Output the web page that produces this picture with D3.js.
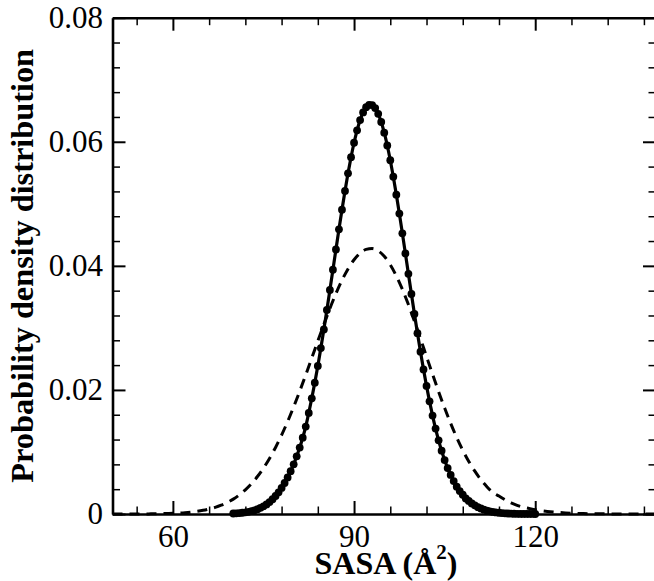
<!DOCTYPE html>
<html>
<head>
<meta charset="utf-8">
<script src="https://cdn.jsdelivr.net/npm/d3@7"></script>
<style>
  html, body { margin: 0; padding: 0; background: #fff; overflow: hidden; }
  svg { display: block; }
  svg text { font-family: 'Liberation Serif', 'Times New Roman', Times, 'Nimbus Roman', 'DejaVu Serif', serif !important; fill: #000; }
</style>
</head>
<body>
<svg id="chart" width="654" height="581"></svg>
<script>
// ---- data ----
const solidX = [70,70.5,71,71.5,72,72.5,73,73.5,74,74.5,75,75.5,76,76.5,77,77.5,78,78.5,79,79.5,
  80,80.5,81,81.5,82,82.5,83,83.5,84,84.5,85,85.5,86,86.5,87,87.5,88,88.5,89,89.5,
  90,90.5,91,91.5,92,92.5,93,93.5,94,94.5,95,95.5,96,96.5,97,97.5,98,98.5,99,99.5,
  100,100.5,101,101.5,102,102.5,103,103.5,104,104.5,105,105.5,106,106.5,107,107.5,108,108.5,109,109.5,
  110,110.5,111,111.5,112,112.5,113,113.5,114,114.5,115,115.5,116,116.5,117,117.5,118,118.5,119,119.5,120];
const solidY = [0.00008,0.00011,0.00015,0.0002,0.00027,0.00035,0.00046,0.0006,0.00077,0.00098,
  0.00124,0.00155,0.00193,0.00238,0.0029,0.0035,0.0042,0.005,0.0059,0.0069,
  0.008,0.0093,0.0107,0.0123,0.0141,0.0163,0.01865,0.02117,0.02387,0.02674,
  0.02975,0.03289,0.03611,0.03938,0.04265,0.04589,0.04905,0.05207,0.05491,0.05751,
  0.05984,0.06184,0.06349,0.06473,0.06557,0.06596,0.06592,0.06543,0.06451,0.06319,
  0.06147,0.0594,0.05702,0.05436,0.05148,0.04843,0.04525,0.042,0.03872,0.03546,
  0.03225,0.02914,0.02616,0.02331,0.02064,0.01816,0.01587,0.01377,0.01187,0.0102,
  0.0087,0.0074,0.0063,0.0053,0.0044,0.0037,0.0031,0.0025,0.0021,0.0017,
  0.0014,0.0011,0.0009,0.0007,0.00055,0.00043,0.00034,0.00026,0.0002,0.00015,
  0.00011,0.00008,0.00006,0.00004,0.00003,0.00002,0.00002,0.00001,0.00001,0.00001,0];

const dashX = [50,51,52,53,54,55,56,57,58,59,60,61,62,63,64,65,66,67,68,69,
  70,71,72,73,74,75,76,77,78,79,80,81,82,83,84,85,86,87,88,89,
  90,91,92,93,94,95,96,97,98,99,100,101,102,103,104,105,106,107,108,109,
  110,111,112,113,114,115,116,117,118,119,120,121,122,123,124,125,126,127,128,129,
  130,131,132,133,134,135,136,137,138,139,140];
const dashY = [0,0,0,0,0,0.00001,0.00002,0.00003,0.00005,0.00008,
  0.00011,0.00016,0.00022,0.00031,0.00043,0.00059,0.0008,0.00107,0.00142,0.00186,
  0.0024,0.00308,0.0039,0.00488,0.00604,0.0074,0.00896,0.01073,0.01272,0.0149,
  0.01727,0.01979,0.02243,0.02514,0.02787,0.03055,0.03313,0.03552,0.03767,0.03951,
  0.04098,0.04204,0.04265,0.04279,0.04242,0.04154,0.04018,0.03838,0.03622,0.03376,
  0.03108,0.02826,0.02538,0.02252,0.01973,0.01708,0.0146,0.01233,0.01028,0.00847,
  0.0069,0.00554,0.0044,0.00345,0.0029,0.0023,0.0018,0.0014,0.0011,0.0009,
  0.0007,0.00055,0.00042,0.00032,0.00024,0.00018,0.00013,0.0001,0.00007,0.00005,
  0.00004,0.00003,0.00002,0.00001,0.00001,0.00001,0,0,0,0,0];

const xMajorTicks = [60, 90, 120];
const xMinorTicks = [54,66,72,78,84,96,102,108,114,126,132,138];
const yMajorTicks = [0, 0.02, 0.04, 0.06, 0.08];
const yMinorTicks = [0.004,0.008,0.012,0.016,0.024,0.028,0.032,0.036,0.044,0.048,0.052,0.056,0.064,0.068,0.072,0.076];
const yTickLabels = ["0", "0.02", "0.04", "0.06", "0.08"];
const xTitle = "SASA (Å";
const xTitleSup = "2";
const yTitle = "Probability density distribution";

// ---- layout ----
const svg = d3.select("#chart");
const L = 112.5, R = 656, T = 17.7, B = 514;
const x = d3.scaleLinear().domain([50, 140]).range([L, R]);
const y = d3.scaleLinear().domain([0, 0.08]).range([B, T]);

const majorLen = 13, minorLen = 7.5;

function styleAxis(g, w) {
  g.attr("font-family", null);
  g.select(".domain").attr("stroke", "#000").attr("stroke-width", 2.6);
  g.selectAll(".tick line").attr("stroke", "#000").attr("stroke-width", w);
  g.selectAll(".tick text").style("font-size", "31px");
}
function styleMinor(g) {
  g.select(".domain").remove();
  g.selectAll("line").attr("stroke", "#000").attr("stroke-width", 1.5);
}

// bottom
const gb = svg.append("g").attr("transform", `translate(0,${B})`)
  .call(d3.axisBottom(x).tickValues(xMajorTicks).tickFormat(d3.format("d")).tickSizeInner(-majorLen).tickSizeOuter(0).tickPadding(11));
styleAxis(gb, 2);
svg.append("g").attr("transform", `translate(0,${B})`)
  .call(d3.axisBottom(x).tickValues(xMinorTicks).tickFormat("").tickSizeInner(-minorLen).tickSizeOuter(0))
  .call(styleMinor);
// top
const gt = svg.append("g").attr("transform", `translate(0,${T})`)
  .call(d3.axisTop(x).tickValues(xMajorTicks).tickFormat("").tickSizeInner(-majorLen).tickSizeOuter(0));
styleAxis(gt, 2);
svg.append("g").attr("transform", `translate(0,${T})`)
  .call(d3.axisTop(x).tickValues(xMinorTicks).tickFormat("").tickSizeInner(-minorLen).tickSizeOuter(0))
  .call(styleMinor);
// left
const gl = svg.append("g").attr("transform", `translate(${L},0)`)
  .call(d3.axisLeft(y).tickValues(yMajorTicks).tickFormat((d, i) => yTickLabels[i]).tickSizeInner(-majorLen).tickSizeOuter(0).tickPadding(9.5));
styleAxis(gl, 2);
svg.append("g").attr("transform", `translate(${L},0)`)
  .call(d3.axisLeft(y).tickValues(yMinorTicks).tickFormat("").tickSizeInner(-minorLen).tickSizeOuter(0))
  .call(styleMinor);
// right
const gr = svg.append("g").attr("transform", `translate(${R},0)`)
  .call(d3.axisRight(y).tickValues(yMajorTicks).tickFormat("").tickSizeInner(-majorLen).tickSizeOuter(0));
styleAxis(gr, 2);
svg.append("g").attr("transform", `translate(${R},0)`)
  .call(d3.axisRight(y).tickValues(yMinorTicks).tickFormat("").tickSizeInner(-minorLen).tickSizeOuter(0))
  .call(styleMinor);

// ---- curves ----
const dashData = dashX.map((d, i) => [d, dashY[i]]);
const solidData = solidX.map((d, i) => [d, solidY[i]]);
const line = d3.line().x(d => x(d[0])).y(d => y(d[1])).curve(d3.curveMonotoneX);

svg.append("path").datum(dashData).attr("d", line)
  .attr("fill", "none").attr("stroke", "#000").attr("stroke-width", 3)
  .attr("stroke-dasharray", "10,7");

svg.append("path").datum(solidData).attr("d", line)
  .attr("fill", "none").attr("stroke", "#000").attr("stroke-width", 3.2);

svg.append("g").selectAll("circle").data(solidData).join("circle")
  .attr("cx", d => x(d[0])).attr("cy", d => y(d[1])).attr("r", 3.9).attr("fill", "#000");

// ---- titles ----
const xt = svg.append("text").attr("x", 386).attr("y", 574)
  .attr("text-anchor", "middle").style("font-size", "32px").style("font-weight", "bold");
xt.append("tspan").text(xTitle);
xt.append("tspan").attr("dy", -15).style("font-size", "21px").text(xTitleSup);
xt.append("tspan").attr("dy", 15).text(")");

svg.append("text")
  .attr("transform", `translate(33,${(T + B) / 2}) rotate(-90)`)
  .attr("text-anchor", "middle").style("font-size", "32.3px").style("font-weight", "bold")
  .text(yTitle);
</script>
</body>
</html>
